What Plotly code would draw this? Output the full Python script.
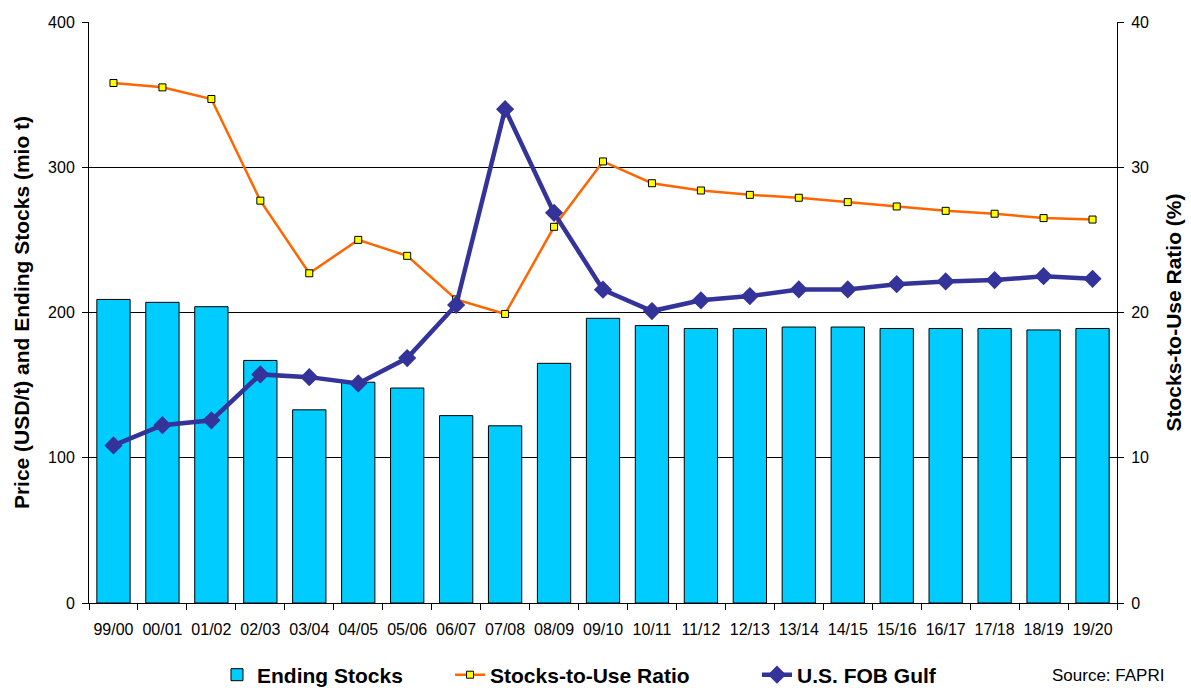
import plotly.graph_objects as go

# Marketing years
years = ["99/00", "00/01", "01/02", "02/03", "03/04", "04/05", "05/06", "06/07",
         "07/08", "08/09", "09/10", "10/11", "11/12", "12/13", "13/14", "14/15",
         "15/16", "16/17", "17/18", "18/19", "19/20"]

# Ending stocks (mio t)
ending_stocks = [209, 207, 204, 167, 133, 152, 148, 129, 122, 165, 196, 191,
                 189, 189, 190, 190, 189, 189, 189, 188, 189]

# Stocks-to-use ratio (%)
stocks_to_use = [35.8, 35.5, 34.7, 27.7, 22.7, 25.0, 23.9, 20.9, 19.9, 25.9, 30.4,
                 28.9, 28.4, 28.1, 27.9, 27.6, 27.3, 27.0, 26.8, 26.5, 26.4]

# U.S. FOB Gulf price (USD/t)
fob_gulf = [108.5, 122.4, 125.8, 157.4, 155.5, 151.2, 168.6, 205.2, 340.0, 268.6,
            215.7, 201.0, 208.4, 211.3, 215.9, 215.9, 219.5, 221.4, 222.3, 225.0, 223.2]

FONT = "Arial, Liberation Sans, sans-serif"
LEGEND_FONT = dict(size=21, family=FONT, weight="bold")

fig = go.Figure()

fig.add_trace(go.Bar(
    x=years, y=ending_stocks, name="Ending Stocks", yaxis="y2", legend="legend",
    marker=dict(color="#00CCFF", line=dict(color="#000000", width=1)),
))

fig.add_trace(go.Scatter(
    x=years, y=stocks_to_use, name="Stocks-to-Use Ratio", yaxis="y", legend="legend2",
    mode="lines+markers",
    line=dict(color="#FF6600", width=2.5),
    marker=dict(symbol="square", size=7, color="#FFFF00",
                line=dict(color="#000000", width=1)),
))

fig.add_trace(go.Scatter(
    x=years, y=fob_gulf, name="U.S. FOB Gulf", yaxis="y2", legend="legend3",
    mode="lines+markers",
    line=dict(color="#333399", width=4.5),
    marker=dict(symbol="diamond", size=14, color="#333399"),
))


def legend_at(x):
    return dict(orientation="h", x=x, xanchor="left", y=-0.124, yanchor="middle",
                font=LEGEND_FONT, bgcolor="rgba(0,0,0,0)")


fig.update_layout(
    width=1191, height=688,
    margin=dict(l=89, r=74, t=22, b=85, autoexpand=False),
    paper_bgcolor="white", plot_bgcolor="white",
    font=dict(family=FONT, size=16, color="#000000"),
    bargap=0.32,
    showlegend=True,
    legend=legend_at(0.1245),
    legend2=legend_at(0.3512),
    legend3=legend_at(0.6498),
    xaxis=dict(
        type="category", range=[-0.5, len(years) - 0.5],
        showline=True, linecolor="#000000", linewidth=1,
        ticks="outside", tickson="boundaries", ticklen=6, tickcolor="#000000",
        tickangle=0, tickfont=dict(size=16), ticklabelstandoff=12,
        showgrid=False, mirror=False,
    ),
    yaxis=dict(
        side="right", range=[0, 40], dtick=10, tick0=0,
        showline=True, linecolor="#000000", linewidth=1,
        ticks="outside", ticklen=6, tickcolor="#000000",
        showgrid=True, gridcolor="#000000", gridwidth=1,
        zeroline=False, tickfont=dict(size=16), ticklabelstandoff=4,
        title=dict(text="Stocks-to-Use Ratio (%)", standoff=18,
                   font=dict(size=21, family=FONT, weight="bold")),
    ),
    yaxis2=dict(
        side="left", overlaying="y", range=[0, 400], dtick=100, tick0=0,
        showline=True, linecolor="#000000", linewidth=1,
        ticks="outside", ticklen=6, tickcolor="#000000",
        showgrid=False, zeroline=False, tickfont=dict(size=16),
        ticklabelstandoff=4,
        title=dict(text="Price (USD/t) and Ending Stocks (mio t)", standoff=12,
                   font=dict(size=21, family=FONT, weight="bold")),
    ),
    annotations=[dict(
        text="Source: FAPRI", xref="paper", yref="paper",
        x=0.935, y=-0.105, xanchor="left", yanchor="top", showarrow=False,
        font=dict(size=17, family=FONT),
    )],
)

fig.write_html("out.html")
